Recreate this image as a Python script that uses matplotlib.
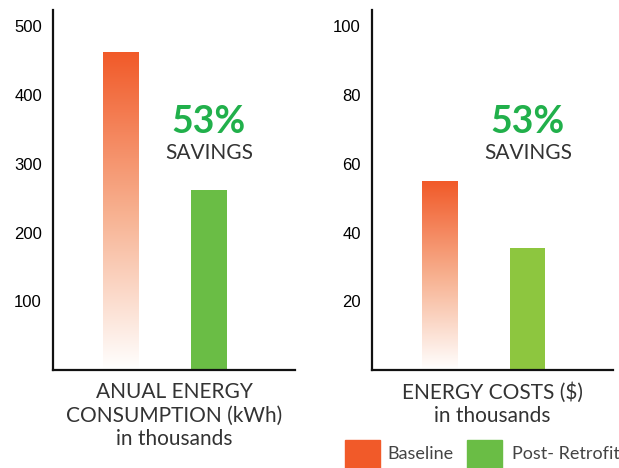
import numpy as np
import matplotlib
matplotlib.use("Agg")
import matplotlib.pyplot as plt
from matplotlib.colors import LinearSegmentedColormap
from matplotlib.patches import Rectangle

# data
categories = ["Baseline", "Post- Retrofit"]
energy_kwh = [462, 262]          # thousands kWh
energy_cost = [55, 35.5]         # thousands $
energy_ticks = [100, 200, 300, 400, 500]
cost_ticks = [20, 40, 60, 80, 100]
savings_label = "53%"

narrow = "Lato"

orange = "#f15a29"
greens = ["#6abd45", "#8dc63f"]
grad = LinearSegmentedColormap.from_list("base", ["#ffffff", "#f7b08f", orange])

fig = plt.figure(figsize=(6.19, 4.68), dpi=100)
ax1 = fig.add_axes([53 / 619, 98 / 468, 242 / 619, 360 / 468])
ax2 = fig.add_axes([372 / 619, 98 / 468, 241 / 619, 360 / 468])


def draw(ax, values, ticks, ymax, green, xlabel, text_x):
    x = np.arange(len(values))
    bars = ax.bar(x, values, width=0.41, color=["none", green], zorder=2)
    # gradient fill for baseline bar
    b = bars[0]
    x0, y0 = b.get_x(), b.get_y()
    w, h = b.get_width(), b.get_height()
    g = np.linspace(0, 1, 256).reshape(-1, 1)
    ax.imshow(g, cmap=grad, origin="lower", aspect="auto",
              extent=[x0, x0 + w, y0, y0 + h], zorder=2)
    ax.set_xlim(-0.78, 1.98)
    ax.set_ylim(0, ymax)
    ax.set_yticks(ticks)
    ax.set_yticklabels([str(t) for t in ticks], fontsize=12,
                       family="Liberation Sans")
    ax.tick_params(axis="y", length=0, pad=8, colors="black")
    ax.set_yticks([ticks[1]], minor=True)
    ax.tick_params(axis="y", which="minor", length=3, width=1)
    ax.set_xticks([])
    for s in ["top", "right"]:
        ax.spines[s].set_visible(False)
    for s in ["left", "bottom"]:
        ax.spines[s].set_linewidth(1.6)
        ax.spines[s].set_color("#111111")
    ax.text(text_x, 0.689, savings_label, transform=ax.transAxes, ha="center",
            va="center", fontsize=27, fontweight="bold", color="#21b04b",
            family=narrow)
    ax.text(text_x, 0.603, "SAVINGS", transform=ax.transAxes, ha="center",
            va="center", fontsize=15, color="#333333", family=narrow)
    ax.set_xlabel(xlabel, fontsize=15, color="#333333", family=narrow,
                  linespacing=1.2, labelpad=9)


draw(ax1, energy_kwh, energy_ticks, 524, greens[0],
     "ANUAL ENERGY\nCONSUMPTION (kWh)\nin thousands", 156 / 242)
draw(ax2, energy_cost, cost_ticks, 104.8, greens[1],
     "ENERGY COSTS ($)\nin thousands", 156 / 241)

# legend
for (lx, tx), col, lab in zip([(345, 387), (467, 512)], [orange, greens[0]], categories):
    fig.patches.append(Rectangle((lx / 619, 0), 35 / 619, 28 / 468,
                                 transform=fig.transFigure, color=col))
    fig.text(tx / 619, 14 / 468, lab, ha="left", va="center", fontsize=13,
             color="#444444", family=narrow)

fig.savefig("out.png", dpi=100)
